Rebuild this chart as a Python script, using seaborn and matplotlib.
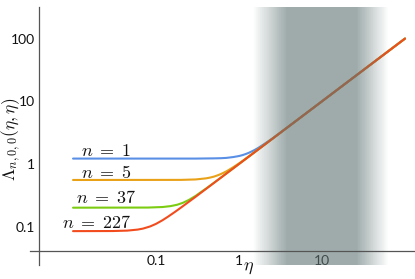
import numpy as np
import pandas as pd
import matplotlib
matplotlib.use("Agg")
import matplotlib.pyplot as plt
from matplotlib.colors import LinearSegmentedColormap
from matplotlib.ticker import FixedLocator, LogLocator, NullFormatter
import seaborn as sns

# values
series_names = ["n = 1", "n = 5", "n = 37", "n = 227"]

eta_n1 = [0.01, 0.3, 0.5, 0.6, 0.7, 0.85, 1.0, 1.1, 1.2, 1.3, 1.4, 1.55, 1.7, 2.0, 2.5, 3.0, 5.0, 10, 100]
lam_n1 = [1.22, 1.22, 1.23, 1.237, 1.25, 1.29, 1.34, 1.385, 1.44, 1.50, 1.57, 1.68, 1.80, 2.07, 2.53, 3.02, 5.0, 10, 100]

eta_n5 = [0.01, 0.2, 0.3, 0.4, 0.45, 0.5, 0.55, 0.6, 0.65, 0.7, 0.75, 0.85, 1.0, 1.15, 1.3, 2.0, 10, 100]
lam_n5 = [0.556, 0.558, 0.567, 0.59, 0.608, 0.63, 0.658, 0.689, 0.724, 0.761, 0.801, 0.887, 1.023, 1.165, 1.311, 2.0, 10, 100]

eta_n37 = [0.01, 0.08, 0.12, 0.15, 0.18, 0.21, 0.25, 0.3, 0.35, 0.4, 0.5, 0.6, 1.0, 100]
lam_n37 = [0.201, 0.202, 0.206, 0.213, 0.224, 0.240, 0.268, 0.310, 0.359, 0.405, 0.503, 0.602, 1.0, 100]

eta_n227 = [0.01, 0.03, 0.045, 0.06, 0.07, 0.085, 0.1, 0.12, 0.14, 0.17, 0.2, 0.25, 0.3, 0.4, 1.0, 100]
lam_n227 = [0.085, 0.0853, 0.0866, 0.0899, 0.0934, 0.101, 0.111, 0.127, 0.145, 0.173, 0.202, 0.251, 0.3, 0.4, 1.0, 100]

line_colors = ["#5a8fe6", "#e9a118", "#7ccc12", "#f24c1e"]

# label anchors (eta, Lambda) for the n = ... texts
label_eta = [0.025, 0.025, 0.025, 0.019]
label_lam = [1.61, 0.72, 0.287, 0.1146]

# shaded band: fade in, solid, fade out (eta)
shade_edges = [1.47, 3.8, 26, 63]

xticks_major = [0.01, 0.1, 1, 10, 100]
xtick_labels = ["", "0.1", "1", "10", ""]
yticks_major = [0.1, 1, 10, 100]
ytick_labels = ["0.1", "1", "10", "100"]

df = pd.concat([
    pd.DataFrame({"eta": e, "lam": l, "series": s})
    for e, l, s in zip([eta_n1, eta_n5, eta_n37, eta_n227],
                       [lam_n1, lam_n5, lam_n37, lam_n227], series_names)
], ignore_index=True)

sns.set_style("white")
plt.rcParams["font.family"] = ["Lato", "DejaVu Sans"]
plt.rcParams["mathtext.fontset"] = "cm"

fig = plt.figure(figsize=(4.15, 2.79), dpi=100)
ax = fig.add_axes([30 / 415, 14 / 279, 385 / 415, 258 / 279])

sns.lineplot(data=df, x="eta", y="lam", hue="series", hue_order=series_names,
             palette=line_colors, sort=False, estimator=None, lw=1.5,
             legend=False, ax=ax)
ax.set(xlabel="", ylabel="")

ax.set_xscale("log")
ax.set_yscale("log")
ax.set_xlim(0.00303, 132)
ax.set_ylim(0.0245, 319)

# gradient shade over the curves
t = np.log10(shade_edges)
xe = np.logspace(t[0], t[3], 200)
xc = np.sqrt(xe[:-1] * xe[1:])
w = np.interp(np.log10(xc), t, [0, 1, 1, 0])
shade_rgb = (95 / 255, 115 / 255, 115 / 255)
cmap = LinearSegmentedColormap.from_list("shade", [shade_rgb + (0.0,), shade_rgb + (0.6,)])
ax.pcolormesh(xe, [0.0245, 319], w[None, :], cmap=cmap, vmin=0, vmax=1,
              shading="flat", zorder=5, rasterized=True)

# mathematica style crossing axes
for side in ["top", "right"]:
    ax.spines[side].set_visible(False)
ax.spines["left"].set_position(("data", 0.0039))
ax.spines["bottom"].set_position(("data", 0.041))
for side in ["left", "bottom"]:
    ax.spines[side].set_color("#555555")
    ax.spines[side].set_linewidth(0.9)
    ax.spines[side].set_zorder(6)

ax.xaxis.set_major_locator(FixedLocator(xticks_major))
ax.set_xticklabels(xtick_labels)
ax.yaxis.set_major_locator(FixedLocator(yticks_major))
ax.set_yticklabels(ytick_labels)
ax.xaxis.set_minor_locator(LogLocator(base=10, subs=range(2, 10), numticks=20))
ax.yaxis.set_minor_locator(LogLocator(base=10, subs=range(2, 10), numticks=20))
ax.xaxis.set_minor_formatter(NullFormatter())
ax.yaxis.set_minor_formatter(NullFormatter())
ax.tick_params(which="both", direction="in", color="#555555", width=0.6,
               labelsize=10, labelcolor="#111111", pad=3)
ax.tick_params(which="major", length=4.5)
ax.tick_params(which="minor", length=2.5)

for name, ex, ly in zip(series_names, label_eta, label_lam):
    num = name.split("=")[1].strip()
    ax.text(ex, ly, r"$n\;=\;%s$" % num, fontsize=13, ha="center", va="center",
            color="#111111", zorder=7)

fig.text(11 / 415, 1 - 139 / 279, r"$\Lambda_{n,0,0}(\eta,\eta)$", fontsize=12.5,
         rotation=90, ha="center", va="center", color="#111111")
fig.text(248 / 415, 1 - 268 / 279, r"$\eta$", fontsize=13, ha="center",
         va="center", color="#111111")

fig.savefig("out.png", dpi=100)
